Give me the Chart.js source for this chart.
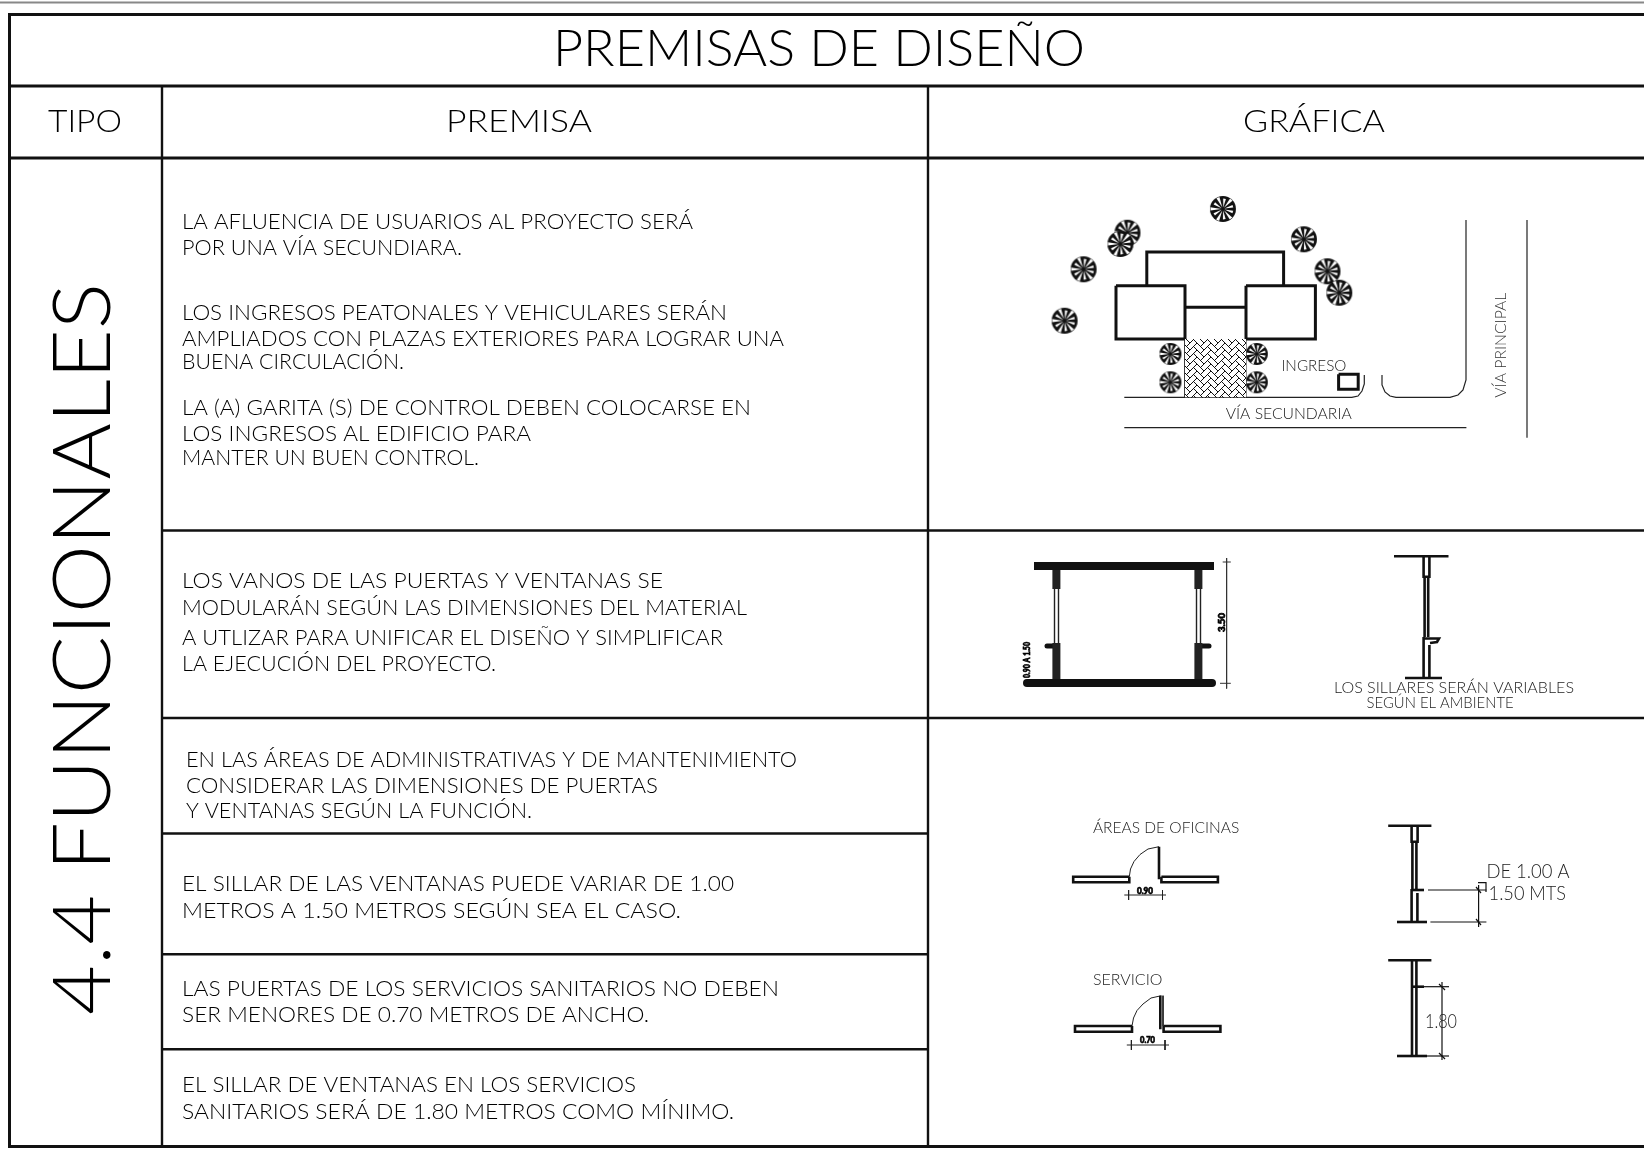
<!DOCTYPE html>
<html lang="es">
<head>
    <meta charset="UTF-8">
    <title>Premisas de diseño</title>
    <script src="https://cdn.jsdelivr.net/npm/chart.js"></script>
    <style>
        html, body { margin: 0; padding: 0; background: #fff; overflow: hidden; }
        #wrap { position: relative; width: 1644px; height: 1151px; }
    </style>
</head>
<body>
<div id="wrap"><canvas id="sheet"></canvas></div>
<script>
// table frame in page pixels
const topRule = [[0, 2.5], [1644, 2.5]];
const frameOuter = [[1644, 14.5], [9.5, 14.5], [9.5, 1146.5], [1644, 1146.5]];
const headRule1 = [[9.5, 86], [1644, 86]];
const headRule2 = [[9.5, 158], [1644, 158]];
const colRule1 = [[162, 86], [162, 1146.5]];
const colRule2 = [[928, 86], [928, 1146.5]];
const rowRule1 = [[162, 530.5], [1644, 530.5]];
const rowRule2 = [[162, 718], [1644, 718]];
const rowRule3 = [[162, 833.5], [928, 833.5]];
const rowRule4 = [[162, 954.3], [928, 954.3]];
const rowRule5 = [[162, 1049.3], [928, 1049.3]];

// site plan
const blockUpper = [[1146.8, 285.7], [1146.8, 252], [1283.6, 252], [1283.6, 285.7]];
const blockLeft = [[1116, 285.7], [1185, 285.7], [1185, 339], [1116, 339], [1116, 285.7]];
const blockRight = [[1246, 285.7], [1315.4, 285.7], [1315.4, 339], [1246, 339], [1246, 285.7]];
const blockMiddle = [[1185, 307.3], [1246, 307.3]];
const paving = [[1185, 339], [1246, 339]];
const pavingEdge = [[1185, 339], [1185, 397.3], [1246, 397.3], [1246, 339]];
const roadKerbA = [[1124.3, 397.3], [1351.8, 397.3], [1358, 396], [1362, 391], [1364.3, 384], [1364.3, 375]];
const roadKerbB = [[1382, 375], [1382, 385], [1385, 392], [1390, 396], [1396, 397.3], [1450, 397.3], [1458, 395], [1463, 390], [1466, 380], [1466, 220]];
const roadLower = [[1124.3, 427.7], [1466.4, 427.7]];
const roadRight = [[1527, 220], [1527, 437.7]];
const guardHouse = [[1338.6, 374.3], [1358.2, 374.3], [1358.2, 389.3], [1338.6, 389.3], [1338.6, 374.3]];
const treesBig = [[1222.9, 209], [1127.5, 232.7], [1120.4, 244], [1083.6, 269.3], [1064.6, 320.7], [1303.9, 239.3], [1327.5, 271.3], [1339.3, 292.7]];
const treesSmall = [[1170.4, 354], [1170.4, 382.3], [1256.8, 354], [1256.8, 382.3]];

// section with two windows
const slabTop = [[1034, 566], [1214, 566]];
const slabBottom = [[1027, 683], [1212, 683]];
const wallLeftUp = [[1056.4, 570], [1056.4, 589]];
const wallLeftLow = [[1056.4, 643], [1056.4, 680]];
const wallRightUp = [[1198.4, 570], [1198.4, 589]];
const wallRightLow = [[1198.4, 643], [1198.4, 680]];
const glassLeftA = [[1054.5, 589], [1054.5, 643]];
const glassLeftB = [[1058.5, 589], [1058.5, 643]];
const glassRightA = [[1196.5, 589], [1196.5, 643]];
const glassRightB = [[1200.5, 589], [1200.5, 643]];
const sillLeft = [[1047, 646], [1056, 646]];
const sillRight = [[1200, 646], [1209, 646]];
const dimHeight = [[1226.6, 558], [1226.6, 688.5]];
const dimTickA = [[1222.7, 562], [1230.8, 562]];
const dimTickB = [[1220, 683.3], [1230.8, 683.3]];

// single wall section, variable sill
const sec2Top = [[1394, 556.3], [1448.5, 556.3]];
const sec2Box = [[1423.6, 556.3], [1423.6, 576.7], [1429.4, 576.7], [1429.4, 556.3]];
const sec2GlassA = [[1424.6, 576.7], [1424.6, 637]];
const sec2GlassB = [[1428.2, 576.7], [1428.2, 637]];
const sec2LowA = [[1423.6, 637], [1423.6, 678]];
const sec2LowB = [[1429.4, 645], [1429.4, 678]];
const sec2Sill = [[1424, 638.5], [1439, 638.5], [1437, 642], [1430, 643]];
const sec2Bottom = [[1405, 678], [1442, 678]];

// doors
const door1WallL = [[1129.3, 876.7], [1073.2, 876.7], [1073.2, 882.3], [1129.3, 882.3], [1129.3, 876.7]];
const door1WallR = [[1161.4, 876.7], [1217.9, 876.7], [1217.9, 882.3], [1161.4, 882.3], [1161.4, 876.7]];
const door1Leaf = [[1159, 846.7], [1159, 879.3]];
const door1Arc = [[1129.3, 876.7], [1130.5, 869], [1134, 861.5], [1140, 854.5], [1148, 849], [1159, 846.7]];
const door1Dim = [[1124.3, 895], [1166, 895]];
const door1TickL = [[1128.6, 890], [1128.6, 900]];
const door1TickR = [[1162.5, 890], [1162.5, 900]];
const door2WallL = [[1132, 1026], [1075, 1026], [1075, 1031.7], [1132, 1031.7], [1132, 1026]];
const door2WallR = [[1163.6, 1026], [1220.4, 1026], [1220.4, 1031.7], [1163.6, 1031.7], [1163.6, 1026]];
const door2LeafA = [[1160.3, 995.7], [1160.3, 1029.3]];
const door2LeafB = [[1163, 995.7], [1163, 1026]];
const door2Arc = [[1132, 1026], [1133.5, 1018], [1137, 1010.5], [1143, 1004], [1151, 998], [1161.4, 995.7]];
const door2Dim = [[1126.8, 1045], [1169, 1045]];
const door2TickL = [[1131.4, 1040], [1131.4, 1050]];
const door2TickR = [[1165, 1040], [1165, 1050]];

// wall sections with dimensions
const sec3Top = [[1388.2, 825.7], [1431.4, 825.7]];
const sec3Box = [[1411.6, 825.7], [1411.6, 841.7], [1417.6, 841.7], [1417.6, 825.7]];
const sec3GlassA = [[1412.4, 841.7], [1412.4, 889]];
const sec3GlassB = [[1416.4, 841.7], [1416.4, 889]];
const sec3LowA = [[1411.6, 889], [1411.6, 922]];
const sec3LowB = [[1417.4, 893], [1417.4, 922]];
const sec3Sill = [[1412, 890], [1424, 890]];
const sec3Bottom = [[1397, 922], [1427, 922]];
const sec3DimA = [[1428, 890], [1486.4, 890]];
const sec3DimB = [[1430.4, 922], [1486.4, 922]];
const sec3DimV = [[1478.6, 885], [1478.6, 927]];
const sec3TickA = [[1476, 887], [1481, 893]];
const sec3TickB = [[1476, 919], [1481, 925]];
const sec3Flag = [[1478, 882.7], [1486, 882.7], [1486, 892]];
const sec4Top = [[1388.2, 960.3], [1431.4, 960.3]];
const sec4A = [[1412, 960.3], [1412, 1056]];
const sec4B = [[1416.4, 960.3], [1416.4, 1056]];
const sec4Sill = [[1412, 986.7], [1424, 986.7]];
const sec4Bottom = [[1397, 1056], [1427, 1056]];
const sec4DimA = [[1424, 986.7], [1449, 986.7]];
const sec4DimB = [[1427, 1056], [1449, 1056]];
const sec4DimV = [[1442, 982], [1442, 1060]];
const sec4TickA = [[1439, 984], [1445, 990]];
const sec4TickB = [[1439, 1053], [1445, 1059]];

// text: [string, left, right, baseline]
const headings = [
    ['PREMISAS DE DISEÑO', 553, 1085, 65.5, 52],
    ['TIPO', 48, 122, 132, 32],
    ['PREMISA', 446, 592, 132, 32],
    ['GRÁFICA', 1243, 1385, 132, 32]
];
const premisaLines = [
    ['LA AFLUENCIA DE USUARIOS AL PROYECTO SERÁ', 182, 693, 228.7],
    ['POR UNA VÍA SECUNDIARA.', 182, 462, 255],
    ['LOS INGRESOS PEATONALES Y VEHICULARES SERÁN', 182, 727, 320],
    ['AMPLIADOS CON PLAZAS EXTERIORES PARA LOGRAR UNA', 182, 784, 346],
    ['BUENA CIRCULACIÓN.', 182, 404, 369],
    ['LA (A) GARITA (S) DE CONTROL DEBEN COLOCARSE EN', 182, 751, 415.4],
    ['LOS INGRESOS AL EDIFICIO PARA', 182, 531, 440.5],
    ['MANTER UN BUEN CONTROL.', 182, 479, 464.6],
    ['LOS VANOS DE LAS PUERTAS Y VENTANAS SE', 182, 663, 588.4],
    ['MODULARÁN SEGÚN LAS DIMENSIONES DEL MATERIAL', 182, 747, 614.6],
    ['A UTLIZAR PARA UNIFICAR EL DISEÑO Y SIMPLIFICAR', 182, 723, 645],
    ['LA EJECUCIÓN DEL PROYECTO.', 182, 496, 671],
    ['EN LAS ÁREAS DE ADMINISTRATIVAS Y DE MANTENIMIENTO', 186, 797, 766.6],
    ['CONSIDERAR LAS DIMENSIONES DE PUERTAS', 186, 658, 792.8],
    ['Y VENTANAS SEGÚN LA FUNCIÓN.', 186, 532, 818],
    ['EL SILLAR DE LAS VENTANAS PUEDE VARIAR DE 1.00', 182, 734, 891.4],
    ['METROS A 1.50 METROS SEGÚN SEA EL CASO.', 182, 681, 917.6],
    ['LAS PUERTAS DE LOS SERVICIOS SANITARIOS NO DEBEN', 182, 779, 995.5],
    ['SER MENORES DE 0.70 METROS DE ANCHO.', 182, 649, 1022],
    ['EL SILLAR DE VENTANAS EN LOS SERVICIOS', 182, 636, 1092],
    ['SANITARIOS SERÁ DE 1.80 METROS COMO MÍNIMO.', 182, 734, 1118.5]
];
const drawingLabels = [
    ['INGRESO', 1281.4, 1346.4, 371, 16],
    ['VÍA SECUNDARIA', 1225.7, 1351.8, 419, 16],
    ['LOS SILLARES SERÁN VARIABLES', 1334, 1574, 692.7, 16],
    ['SEGÚN EL AMBIENTE', 1366.6, 1513.6, 707.7, 16],
    ['ÁREAS DE OFICINAS', 1092.9, 1239.3, 832.7, 16],
    ['SERVICIO', 1092.9, 1162.5, 985, 16],
    ['DE 1.00 A', 1486.4, 1569.6, 878.3, 19],
    ['1.50 MTS', 1488.6, 1566, 900, 19],
    ['1.80', 1425, 1457, 1028.3, 19]
];
const dimLabels = [
    ['0.90', 1137, 1153, 894],
    ['0.70', 1140, 1155, 1043]
];
// rotated text: [string, baseline x, bottom y, top y, size]
const sideLabels = [
    ['4.4 FUNCIONALES', 110, 1015, 283, 80, '#000'],
    ['VÍA PRINCIPAL', 1506, 397.7, 292.7, 16, '#333'],
    ['3.50', 1225, 632, 613, 10, '#000'],
    ['0.90 A 1.50', 1030, 678, 642, 10, '#000']
];

const bodyFont = 'Lato';
const lightWeight = 300;

// tree symbol: dark disc cut by white radial wedges
function makeTree(r) {
    const c = document.createElement('canvas');
    c.width = c.height = r * 2 + 2;
    const g = c.getContext('2d');
    const m = r + 1;
    g.fillStyle = '#111';
    g.beginPath();
    g.arc(m, m, r, 0, Math.PI * 2);
    g.fill();
    g.fillStyle = '#fff';
    const spokes = 11;
    for (let i = 0; i < spokes; i++) {
        const a = i / spokes * Math.PI * 2 + 0.3;
        const reach = i % 2 ? 0.97 : 0.8;
        g.beginPath();
        g.moveTo(m + Math.cos(a) * r * 0.12, m + Math.sin(a) * r * 0.12);
        g.lineTo(m + Math.cos(a - 0.13) * r * reach, m + Math.sin(a - 0.13) * r * reach);
        g.lineTo(m + Math.cos(a + 0.13) * r * reach, m + Math.sin(a + 0.13) * r * reach);
        g.closePath();
        g.fill();
    }
    return c;
}

// herringbone tile for the paved entrance
function makePaving() {
    const c = document.createElement('canvas');
    c.width = 14;
    c.height = 14;
    const g = c.getContext('2d');
    g.fillStyle = '#fff';
    g.fillRect(0, 0, 14, 14);
    g.strokeStyle = '#111';
    g.lineWidth = 1;
    g.beginPath();
    for (let y = -14; y < 28; y += 7) {
        g.moveTo(0, y + 7);
        g.lineTo(7, y);
        g.lineTo(14, y + 7);
        g.moveTo(3.5, y + 3.5);
        g.lineTo(7, y + 7);
        g.moveTo(10.5, y + 3.5);
        g.lineTo(14, y);
    }
    g.stroke();
    return g.createPattern(c, 'repeat');
}

function line(points, width, color, extra) {
    return Object.assign({
        data: points.map(p => ({ x: p[0], y: p[1] })),
        showLine: true,
        borderColor: color || '#000',
        borderWidth: width,
        pointRadius: 0,
        tension: 0,
        fill: false,
        clip: false
    }, extra || {});
}

function fitted(ctx, text, x0, x1, y, size, color, weight) {
    ctx.save();
    ctx.font = weight + ' ' + size + 'px ' + bodyFont;
    ctx.fillStyle = color;
    ctx.textBaseline = 'alphabetic';
    const w = ctx.measureText(text).width;
    ctx.translate(x0, y);
    ctx.scale((x1 - x0) / w, 1);
    ctx.fillText(text, 0, 0);
    // the tiny dimension figures are blotchy in the drawing, thicken them
    if (weight === 900) {
        ctx.strokeStyle = color;
        ctx.lineWidth = 0.7;
        ctx.strokeText(text, 0, 0);
    }
    ctx.restore();
}

// writes the sheet's text through the chart's scales
const sheetText = {
    id: 'sheetText',
    afterDatasetsDraw(chart) {
        const ctx = chart.ctx;
        const sx = chart.scales.x, sy = chart.scales.y;
        headings.forEach(h => fitted(ctx, h[0], sx.getPixelForValue(h[1]), sx.getPixelForValue(h[2]), sy.getPixelForValue(h[3]), h[4], '#000', lightWeight));
        premisaLines.forEach(l => fitted(ctx, l[0], sx.getPixelForValue(l[1]), sx.getPixelForValue(l[2]), sy.getPixelForValue(l[3]), 21, '#000', lightWeight));
        drawingLabels.forEach(l => fitted(ctx, l[0], sx.getPixelForValue(l[1]), sx.getPixelForValue(l[2]), sy.getPixelForValue(l[3]), l[4], '#222', lightWeight));
        dimLabels.forEach(l => fitted(ctx, l[0], sx.getPixelForValue(l[1]), sx.getPixelForValue(l[2]), sy.getPixelForValue(l[3]), 9, '#000', 900));
        sideLabels.forEach(s => {
            const px = sx.getPixelForValue(s[1]);
            const bottom = sy.getPixelForValue(s[2]), top = sy.getPixelForValue(s[3]);
            ctx.save();
            ctx.translate(px, bottom);
            ctx.rotate(-Math.PI / 2);
            fitted(ctx, s[0], 0, bottom - top, 0, s[4], s[5], s[4] > 12 ? lightWeight : 900);
            ctx.restore();
        });
    }
};

const datasets = [
    line(paving, 0, '#fff', { fill: { target: { value: 397.3 } }, backgroundColor: makePaving() }),
    line(pavingEdge, 1, '#222'),
    line(topRule, 2, '#888'),
    line(frameOuter, 3, '#111'),
    line(headRule1, 3, '#111'),
    line(headRule2, 3, '#111')
];
[colRule1, colRule2, rowRule1, rowRule2, rowRule3, rowRule4, rowRule5].forEach(r => datasets.push(line(r, 2.4, '#111')));
[blockUpper, blockLeft, blockRight, blockMiddle, guardHouse].forEach(r => datasets.push(line(r, 3, '#111')));
[roadKerbA, roadKerbB, roadLower, roadRight].forEach(r => datasets.push(line(r, 1.2, '#222')));
datasets.push(line(slabTop, 8, '#111'));
datasets.push(line(slabBottom, 8, '#111', { borderCapStyle: 'round' }));
[wallLeftUp, wallLeftLow, wallRightUp, wallRightLow].forEach(r => datasets.push(line(r, 8, '#222')));
[glassLeftA, glassLeftB, glassRightA, glassRightB].forEach(r => datasets.push(line(r, 1.4, '#222')));
[sillLeft, sillRight].forEach(r => datasets.push(line(r, 5, '#111', { borderCapStyle: 'round' })));
[dimHeight, dimTickA, dimTickB].forEach(r => datasets.push(line(r, 1, '#333')));
[sec2Top, sec2Box, sec2GlassA, sec2GlassB, sec2LowA, sec2LowB, sec2Sill, sec2Bottom].forEach(r => datasets.push(line(r, 2.6, '#111')));
[door1WallL, door1WallR, door2WallL, door2WallR, door1Leaf, door2LeafA].forEach(r => datasets.push(line(r, 2.6, '#111')));
[door2LeafB, door1Arc, door2Arc, door1Dim, door1TickL, door1TickR, door2Dim, door2TickL, door2TickR].forEach(r => datasets.push(line(r, 1, '#222')));
[sec3Top, sec3Box, sec3GlassA, sec3GlassB, sec3LowA, sec3LowB, sec3Sill, sec3Bottom, sec4Top, sec4A, sec4B, sec4Sill, sec4Bottom].forEach(r => datasets.push(line(r, 2.6, '#111')));
[sec3DimA, sec3DimB, sec3DimV, sec3TickA, sec3TickB, sec3Flag, sec4DimA, sec4DimB, sec4DimV, sec4TickA, sec4TickB].forEach(r => datasets.push(line(r, 1.2, '#111')));
datasets.push({
    data: treesBig.map(p => ({ x: p[0], y: p[1] })),
    pointStyle: makeTree(13),
    pointRadius: 13,
    showLine: false,
    clip: false
});
datasets.push({
    data: treesSmall.map(p => ({ x: p[0], y: p[1] })),
    pointStyle: makeTree(11),
    pointRadius: 11,
    showLine: false,
    clip: false
});

const chart = new Chart(document.getElementById('sheet'), {
    type: 'scatter',
    data: { datasets: datasets },
    options: {
        responsive: true,
        maintainAspectRatio: false,
        animation: false,
        layout: { padding: 0, autoPadding: false },
        plugins: { legend: { display: false }, tooltip: { enabled: false } },
        scales: {
            x: { type: 'linear', min: 0, max: 1644, display: false },
            y: { type: 'linear', min: 0, max: 1151, reverse: true, display: false }
        }
    },
    plugins: [sheetText]
});
</script>
</body>
</html>
